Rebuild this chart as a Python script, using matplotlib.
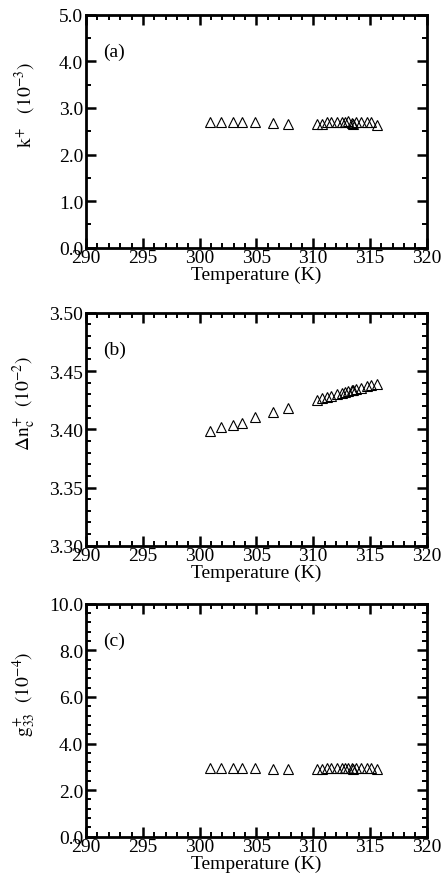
import matplotlib
matplotlib.use("Agg")
import matplotlib.pyplot as plt
from matplotlib.ticker import MultipleLocator

plt.rcParams['font.family'] = ['Liberation Serif', 'DejaVu Serif']
plt.rcParams['mathtext.fontset'] = 'stix'

# temperatures (K)
temp = [300.9, 301.9, 302.9, 303.7, 304.9, 306.5, 307.8,
        310.3, 310.75, 311.2, 311.6, 312.05, 312.5, 312.8, 313.1,
        313.4, 313.5, 313.8, 314.2, 314.7, 315.1, 315.6]

# k+ (10^-3)
k_plus = [2.71, 2.70, 2.69, 2.71, 2.69, 2.68, 2.66,
          2.65, 2.66, 2.69, 2.70, 2.70, 2.70, 2.71, 2.72,
          2.68, 2.66, 2.71, 2.70, 2.71, 2.71, 2.63]

# delta n_c+ (10^-2)
dn_plus = [3.3986, 3.4020, 3.4040, 3.4057, 3.4109, 3.4149, 3.4186,
           3.4253, 3.4265, 3.4273, 3.4287, 3.4299, 3.4310, 3.4321, 3.4330,
           3.4336, 3.4338, 3.4344, 3.4353, 3.4372, 3.4378, 3.4387]

# g33+ (10^-4)
g33_plus = [2.95, 2.94, 2.93, 2.95, 2.93, 2.92, 2.91,
            2.90, 2.91, 2.93, 2.94, 2.95, 2.95, 2.96, 2.97,
            2.94, 2.92, 2.96, 2.95, 2.96, 2.96, 2.89]

panels = [
    (k_plus, (0.0, 5.0), 1.0, 0.5, '%.1f', r'$\mathrm{k}^{+}$   $(10^{-3})$', '(a)'),
    (dn_plus, (3.30, 3.50), 0.05, 0.01, '%.2f', r'$\Delta\mathrm{n}_\mathrm{c}^{+}$  $(10^{-2})$', '(b)'),
    (g33_plus, (0.0, 10.0), 2.0, 0.4, '%.1f', r'$\mathrm{g}_{33}^{+}$  $(10^{-4})$', '(c)'),
]

fig = plt.figure(figsize=(4.46, 8.79), dpi=100)
bottoms = [0.717, 0.378, 0.047]

for (vals, ylim, major, minor, fmt, ylab, tag), b in zip(panels, bottoms):
    ax = fig.add_axes([0.193, b, 0.764, 0.265])
    ax.plot(temp, vals, linestyle='none', marker='^', markersize=6.5,
            markerfacecolor='none', markeredgecolor='black', markeredgewidth=0.8)
    ax.set_xlim(290, 320)
    ax.set_ylim(*ylim)
    ax.xaxis.set_major_locator(MultipleLocator(5))
    ax.xaxis.set_minor_locator(MultipleLocator(1))
    ax.yaxis.set_major_locator(MultipleLocator(major))
    ax.yaxis.set_minor_locator(MultipleLocator(minor))
    ax.yaxis.set_major_formatter(plt.FormatStrFormatter(fmt))
    ax.tick_params(which='both', direction='in', top=True, right=True,
                   labelsize=14)
    ax.tick_params(axis='x', pad=1)
    ax.tick_params(axis='y', pad=2)
    ax.tick_params(which='major', length=7, width=1.8)
    ax.tick_params(which='minor', length=3.5, width=1.4)
    for s in ax.spines.values():
        s.set_linewidth(2.0)
    ax.set_xlabel('Temperature (K)', fontsize=14, labelpad=0)
    ax.set_ylabel(ylab, fontsize=14)
    ax.yaxis.set_label_coords(-0.14, 0.615)
    ax.text(0.05, 0.845, tag, transform=ax.transAxes, fontsize=14,
            ha='left', va='center')

fig.savefig('out.png', dpi=100)
